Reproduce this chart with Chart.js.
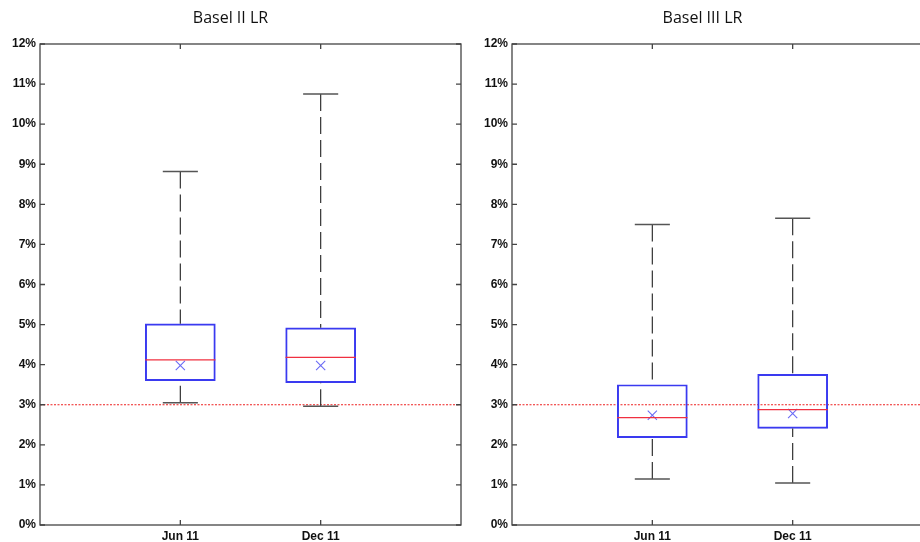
<!DOCTYPE html>
<html>
<head>
<meta charset="utf-8">
<script src="https://cdn.jsdelivr.net/npm/chart.js@4"></script>
<style>
  html, body { margin: 0; padding: 0; background: #fff; width: 920px; height: 542px; overflow: hidden; }
  .wrap { position: absolute; top: 0; width: 470px; height: 542px; }
  #w1 { left: 0; }
  #w2 { left: 472px; }
</style>
</head>
<body>
<div class="wrap" id="w1"><canvas id="chartB2" width="470" height="542"></canvas></div>
<div class="wrap" id="w2"><canvas id="chartB3" width="470" height="542"></canvas></div>
<script>
// Box plot data (values in %)
const categories = ['Jun 11', 'Dec 11'];
const yTicks = [0, 1, 2, 3, 4, 5, 6, 7, 8, 9, 10, 11, 12];
const threshold = 3;

const b2Min = [3.05, 2.96];
const b2Q1 = [3.6, 3.55];
const b2Median = [4.12, 4.18];
const b2Q3 = [5.02, 4.92];
const b2Max = [8.82, 10.75];
const b2Mean = [3.98, 3.98];

const b3Min = [1.15, 1.05];
const b3Q1 = [2.18, 2.41];
const b3Median = [2.68, 2.88];
const b3Q3 = [3.5, 3.76];
const b3Max = [7.5, 7.65];
const b3Mean = [2.74, 2.78];

const tickFont = { family: "'Liberation Sans Narrow', 'Arial Narrow', 'Liberation Sans', sans-serif", size: 12, weight: 'bold' };

// whiskers, caps, medians and the inward tick marks of the frame
const boxPlugin = {
  id: 'boxPlugin',
  afterDatasetsDraw(chart) {
    const { ctx, chartArea: a, scales: { x, y } } = chart;
    const s = chart.options.plugins.boxPlugin;
    ctx.save();
    s.median.forEach((m, i) => {
      const xc = x.getPixelForValue(i + 1);
      const half = (x.getPixelForValue(i + 1 + 0.125) - xc);
      // whiskers
      ctx.strokeStyle = '#333';
      ctx.lineWidth = 1.2;
      ctx.setLineDash([17, 6]);
      ctx.beginPath();
      ctx.moveTo(xc, y.getPixelForValue(s.max[i]));
      ctx.lineTo(xc, y.getPixelForValue(s.q3[i]));
      ctx.moveTo(xc, y.getPixelForValue(s.min[i]));
      ctx.lineTo(xc, y.getPixelForValue(s.q1[i]));
      ctx.stroke();
      ctx.setLineDash([]);
      // caps
      ctx.strokeStyle = '#555';
      ctx.lineWidth = 1.5;
      ctx.beginPath();
      [s.max[i], s.min[i]].forEach(v => {
        const py = y.getPixelForValue(v);
        ctx.moveTo(xc - half, py);
        ctx.lineTo(xc + half, py);
      });
      ctx.stroke();
      // median
      const boxHalf = half * 2;
      ctx.strokeStyle = '#f03040';
      ctx.lineWidth = 1.3;
      ctx.beginPath();
      const pm = y.getPixelForValue(m);
      ctx.moveTo(xc - boxHalf, pm);
      ctx.lineTo(xc + boxHalf, pm);
      ctx.stroke();
    });
    // frame
    ctx.strokeStyle = '#444';
    ctx.lineWidth = 1.3;
    ctx.strokeRect(a.left, a.top, a.right - a.left, a.bottom - a.top);
    ctx.beginPath();
    yTicks.forEach(t => {
      const py = y.getPixelForValue(t);
      ctx.moveTo(a.left, py); ctx.lineTo(a.left + 5, py);
      ctx.moveTo(a.right, py); ctx.lineTo(a.right - 5, py);
    });
    categories.forEach((c, i) => {
      const px = x.getPixelForValue(i + 1);
      ctx.moveTo(px, a.top); ctx.lineTo(px, a.top + 5);
      ctx.moveTo(px, a.bottom); ctx.lineTo(px, a.bottom - 5);
    });
    ctx.stroke();
    ctx.restore();
  }
};

const makeChart = (id, title, mins, q1, med, q3, maxs, means) => {
  const ctx = document.getElementById(id).getContext('2d');
  return new Chart(ctx, {
    data: {
      datasets: [
        {
          type: 'bar',
          data: categories.map((c, i) => ({ x: i + 1, y: [q1[i], q3[i]] })),
          backgroundColor: 'rgba(0,0,0,0)',
          borderColor: '#3a3af0',
          borderWidth: 1.3,
          borderSkipped: false,
          barThickness: 70
        },
        {
          type: 'scatter',
          data: categories.map((c, i) => ({ x: i + 1, y: means[i] })),
          pointStyle: 'crossRot',
          pointRadius: 6.5,
          borderColor: '#6a6af5',
          borderWidth: 1.1
        },
        {
          type: 'line',
          data: [{ x: 0, y: threshold }, { x: 3, y: threshold }],
          borderColor: '#ee2020',
          borderWidth: 1.2,
          borderDash: [2, 1.5],
          pointRadius: 0
        }
      ]
    },
    options: {
      responsive: false,
      animation: false,
      layout: { padding: { left: 0, right: 9, top: 0, bottom: 0 } },
      plugins: {
        legend: { display: false },
        tooltip: { enabled: false },
        title: {
          display: true,
          text: title,
          color: '#111',
          font: { family: "'Open Sans', 'Noto Sans', sans-serif", size: 16, weight: 'normal', lineHeight: 1.25 },
          padding: { top: 8, bottom: 16 }
        },
        boxPlugin: { min: mins, q1: q1, median: med, q3: q3, max: maxs }
      },
      scales: {
        x: {
          type: 'linear',
          min: 0,
          max: 3,
          offset: false,
          afterBuildTicks: s => { s.ticks = categories.map((c, i) => ({ value: i + 1 })); },
          afterFit: s => { s.height = 17; },
          grid: { display: false, drawTicks: false, offset: false },
          border: { display: false },
          ticks: {
            padding: 4,
            color: '#111',
            font: tickFont,
            callback: v => categories[v - 1]
          }
        },
        y: {
          min: 0,
          max: 12,
          afterBuildTicks: s => { s.ticks = yTicks.map(v => ({ value: v })); },
          afterFit: s => { s.width = 40; },
          grid: { display: false, drawTicks: false },
          border: { display: false },
          ticks: {
            padding: 4,
            color: '#111',
            font: tickFont,
            callback: v => v + '%'
          }
        }
      }
    },
    plugins: [boxPlugin]
  });
};

makeChart('chartB2', 'Basel II LR', b2Min, b2Q1, b2Median, b2Q3, b2Max, b2Mean);
makeChart('chartB3', 'Basel III LR', b3Min, b3Q1, b3Median, b3Q3, b3Max, b3Mean);
</script>
</body>
</html>
